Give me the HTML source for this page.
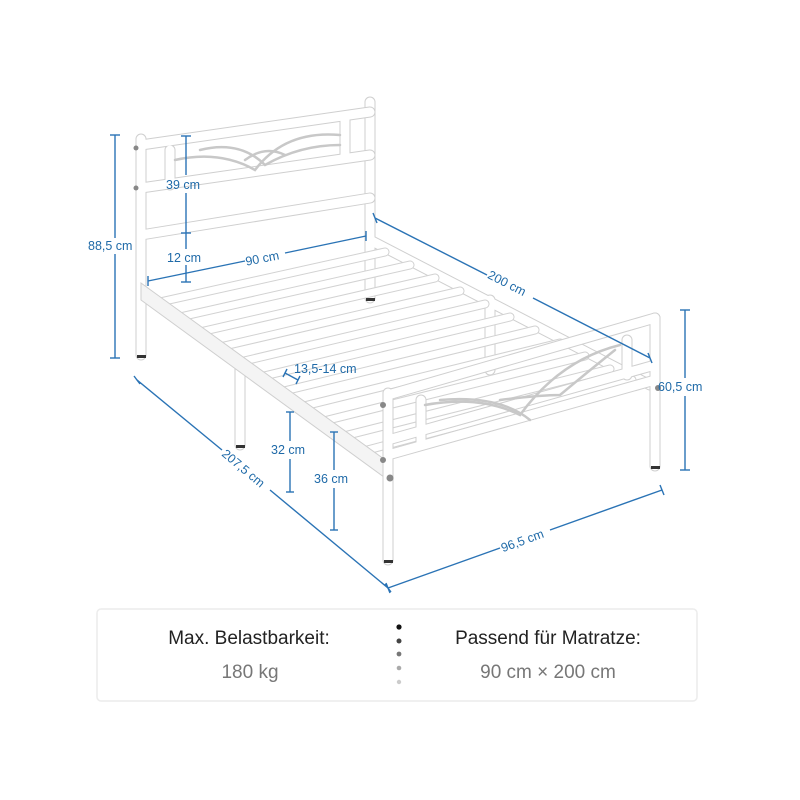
<!DOCTYPE html>
<html><head><meta charset="utf-8"><style>
html,body{margin:0;padding:0;background:#fff;}
svg{display:block}
.t{font-family:"Liberation Sans",sans-serif;fill:#1f6aa8;font-size:12.5px;}
.b{font-family:"Liberation Sans",sans-serif;font-size:19px;}
</style></head><body>
<svg width="800" height="800" viewBox="0 0 800 800" xmlns="http://www.w3.org/2000/svg">
<rect width="800" height="800" fill="#ffffff"/>
<g stroke-linecap="round" fill="none">
 <g stroke="#cfcfcf" stroke-width="11">
  <line x1="370" y1="240" x2="650" y2="385"/>
  <line x1="370" y1="102" x2="370" y2="298"/>
  <line x1="490" y1="300" x2="490" y2="370"/>
 </g>
 <g stroke="#ffffff" stroke-width="9">
  <line x1="370" y1="240" x2="650" y2="385"/>
  <line x1="370" y1="102" x2="370" y2="298"/>
  <line x1="490" y1="300" x2="490" y2="370"/>
 </g>
 <g stroke="#d2d2d2" stroke-width="9">
  <line x1="160" y1="302" x2="385" y2="252"/>
  <line x1="180" y1="317" x2="410" y2="265"/>
  <line x1="200" y1="332" x2="435" y2="278"/>
  <line x1="220" y1="347" x2="460" y2="291"/>
  <line x1="240" y1="362" x2="485" y2="304"/>
  <line x1="260" y1="377" x2="510" y2="317"/>
  <line x1="280" y1="392" x2="535" y2="330"/>
  <line x1="300" y1="407" x2="560" y2="343"/>
  <line x1="320" y1="422" x2="585" y2="356"/>
  <line x1="340" y1="437" x2="610" y2="369"/>
  <line x1="360" y1="452" x2="632" y2="380"/>
 </g>
 <g stroke="#ffffff" stroke-width="7">
  <line x1="160" y1="302" x2="385" y2="252"/>
  <line x1="180" y1="317" x2="410" y2="265"/>
  <line x1="200" y1="332" x2="435" y2="278"/>
  <line x1="220" y1="347" x2="460" y2="291"/>
  <line x1="240" y1="362" x2="485" y2="304"/>
  <line x1="260" y1="377" x2="510" y2="317"/>
  <line x1="280" y1="392" x2="535" y2="330"/>
  <line x1="300" y1="407" x2="560" y2="343"/>
  <line x1="320" y1="422" x2="585" y2="356"/>
  <line x1="340" y1="437" x2="610" y2="369"/>
  <line x1="360" y1="452" x2="632" y2="380"/>
 </g>
 <g stroke="#cfcfcf" stroke-width="11">
  <line x1="141" y1="145" x2="370" y2="112"/>
  <line x1="141" y1="188" x2="370" y2="155"/>
  <line x1="141" y1="235" x2="370" y2="198"/>
  <line x1="141" y1="139" x2="141" y2="355"/>
  <line x1="170" y1="150" x2="170" y2="185"/>
  <line x1="345" y1="118" x2="345" y2="158"/>
  <line x1="240" y1="445" x2="240" y2="368"/>
 </g>
 <g stroke="#ffffff" stroke-width="9">
  <line x1="141" y1="145" x2="370" y2="112"/>
  <line x1="141" y1="188" x2="370" y2="155"/>
  <line x1="141" y1="235" x2="370" y2="198"/>
  <line x1="141" y1="139" x2="141" y2="355"/>
  <line x1="170" y1="150" x2="170" y2="185"/>
  <line x1="345" y1="118" x2="345" y2="158"/>
  <line x1="240" y1="445" x2="240" y2="368"/>
 </g>
 <g stroke="#c8c8c8" stroke-width="2.5">
  <path d="M175 160 Q220 150 255 170 Q285 130 340 135"/>
  <path d="M200 150 Q240 140 265 165 Q300 145 340 145"/>
  <path d="M245 160 Q265 145 285 155"/>
 </g>
 <polygon points="141,283 388,462 388,480 141,300" fill="#f4f4f4" stroke="#cfcfcf" stroke-width="1"/>
 <g stroke="#cfcfcf" stroke-width="11">
  <line x1="388" y1="395" x2="655" y2="318"/>
  <line x1="388" y1="440" x2="655" y2="365"/>
  <line x1="388" y1="455" x2="655" y2="380"/>
  <line x1="421" y1="400" x2="421" y2="445"/>
  <line x1="627" y1="340" x2="627" y2="375"/>
  <line x1="655" y1="318" x2="655" y2="466"/>
  <line x1="388" y1="393" x2="388" y2="560"/>
 </g>
 <g stroke="#ffffff" stroke-width="9">
  <line x1="388" y1="395" x2="655" y2="318"/>
  <line x1="388" y1="440" x2="655" y2="365"/>
  <line x1="388" y1="455" x2="655" y2="380"/>
  <line x1="421" y1="400" x2="421" y2="445"/>
  <line x1="627" y1="340" x2="627" y2="375"/>
  <line x1="655" y1="318" x2="655" y2="466"/>
  <line x1="388" y1="393" x2="388" y2="560"/>
 </g>
 <g stroke="#c8c8c8" stroke-width="2.5">
  <path d="M425 405 Q480 395 520 415 Q560 360 620 345"/>
  <path d="M440 400 Q500 395 530 420"/>
  <path d="M500 400 Q540 395 560 395 Q590 370 615 350"/>
 </g>
</g>
<g fill="#333">
 <rect x="137" y="355" width="9" height="3"/><rect x="384" y="560" width="9" height="3"/>
 <rect x="651" y="466" width="9" height="3"/><rect x="366" y="298" width="9" height="3"/>
 <rect x="236" y="445" width="9" height="3"/>
 <circle cx="136" cy="148" r="2.5" fill="#888"/><circle cx="136" cy="188" r="2.5" fill="#888"/>
 <circle cx="383" cy="405" r="3" fill="#888"/><circle cx="383" cy="460" r="3" fill="#888"/>
 <circle cx="390" cy="478" r="3.5" fill="#888"/><circle cx="658" cy="388" r="3" fill="#888"/>
</g>
<g stroke="#2a73b5" stroke-width="1.4" fill="none">
 <line x1="115" y1="135" x2="115" y2="238"/><line x1="115" y1="254" x2="115" y2="358"/>
 <line x1="110" y1="135" x2="120" y2="135"/><line x1="110" y1="358" x2="120" y2="358"/>
 <line x1="186" y1="136" x2="186" y2="175"/><line x1="186" y1="193" x2="186" y2="249"/><line x1="186" y1="265" x2="186" y2="282"/>
 <line x1="181" y1="136" x2="191" y2="136"/><line x1="181" y1="233" x2="191" y2="233"/><line x1="181" y1="282" x2="191" y2="282"/>
 <line x1="148" y1="281" x2="245" y2="261"/><line x1="285" y1="253" x2="366" y2="236"/>
 <line x1="148" y1="276" x2="148" y2="286"/><line x1="366" y1="231" x2="366" y2="241"/>
 <line x1="375" y1="218" x2="487" y2="275"/><line x1="533" y1="298" x2="650" y2="358"/>
 <line x1="373" y1="213" x2="377" y2="223"/><line x1="648" y1="353" x2="652" y2="363"/>
 <line x1="685" y1="310" x2="685" y2="378"/><line x1="685" y1="396" x2="685" y2="470"/>
 <line x1="680" y1="310" x2="690" y2="310"/><line x1="680" y1="470" x2="690" y2="470"/>
 <line x1="388" y1="588" x2="500" y2="548"/><line x1="550" y1="530" x2="662" y2="490"/>
 <line x1="386" y1="583" x2="390" y2="593"/><line x1="660" y1="485" x2="664" y2="495"/>
 <line x1="137" y1="380" x2="222" y2="450"/><line x1="270" y1="490" x2="388" y2="588"/>
 <line x1="134" y1="376" x2="140" y2="384"/><line x1="385" y1="584" x2="391" y2="592"/>
 <line x1="290" y1="412" x2="290" y2="441"/><line x1="290" y1="459" x2="290" y2="492"/>
 <line x1="286" y1="412" x2="294" y2="412"/><line x1="286" y1="492" x2="294" y2="492"/>
 <line x1="334" y1="432" x2="334" y2="470"/><line x1="334" y1="488" x2="334" y2="530"/>
 <line x1="330" y1="432" x2="338" y2="432"/><line x1="330" y1="530" x2="338" y2="530"/>
 <line x1="285" y1="373" x2="298" y2="380"/><line x1="283" y1="377" x2="287" y2="369"/><line x1="296" y1="384" x2="300" y2="376"/>
</g>
<g class="t">
 <text x="88" y="250">88,5 cm</text>
 <text x="166" y="189">39 cm</text>
 <text x="167" y="262">12 cm</text>
 <text x="245" y="262" transform="rotate(-11 265 257)">90 cm</text>
 <text x="486" y="289" transform="rotate(27 510 285)">200 cm</text>
 <text x="658" y="391">60,5 cm</text>
 <text x="500" y="544" transform="rotate(-20 525 540)">96,5 cm</text>
 <text x="217" y="474" transform="rotate(40 245 470)">207,5 cm</text>
 <text x="271" y="454">32 cm</text>
 <text x="314" y="483">36 cm</text>
 <text x="294" y="373">13,5-14 cm</text>
</g>
<rect x="97" y="609" width="600" height="92" rx="4" fill="#fff" stroke="#ececec" stroke-width="1.5"/>
<text class="b" x="249" y="644" text-anchor="middle" fill="#222">Max. Belastbarkeit:</text>
<text class="b" x="250" y="678" text-anchor="middle" fill="#777">180 kg</text>
<text class="b" x="548" y="644" text-anchor="middle" fill="#222">Passend für Matratze:</text>
<text class="b" x="548" y="678" text-anchor="middle" fill="#777">90 cm × 200 cm</text>
<circle cx="399" cy="627" r="2.6" fill="#111"/>
<circle cx="399" cy="641" r="2.5" fill="#444"/>
<circle cx="399" cy="654" r="2.4" fill="#777"/>
<circle cx="399" cy="668" r="2.3" fill="#aaa"/>
<circle cx="399" cy="682" r="2.2" fill="#ccc"/>
</svg>
</body></html>
